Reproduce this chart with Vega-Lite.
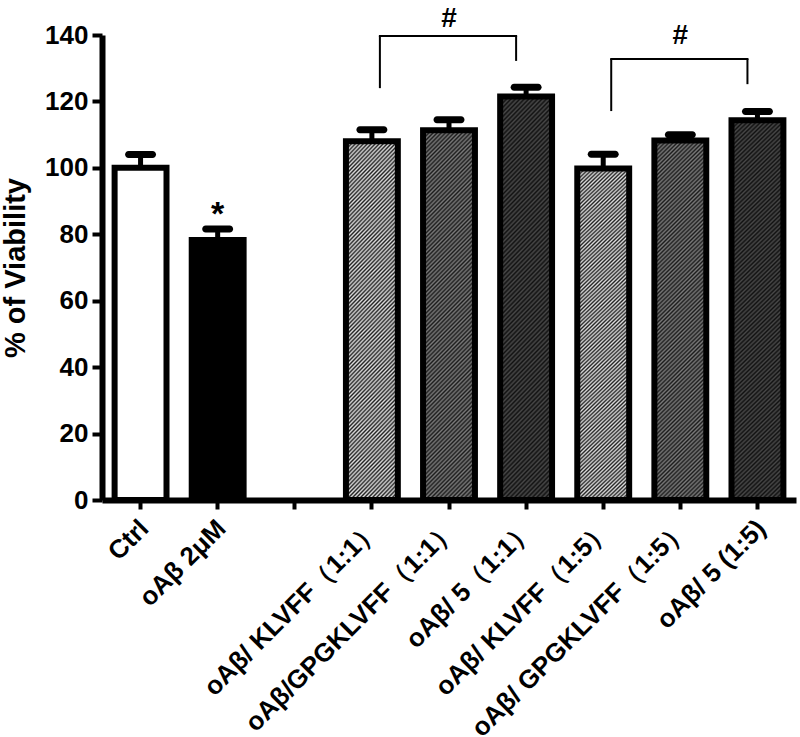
{
  "$schema": "https://vega.github.io/schema/vega-lite/v6.json",
  "width": 694,
  "height": 465,
  "autosize": {"type": "none"},
  "padding": {"left": 102, "top": 35, "right": 4, "bottom": 237},
  "background": "white",
  "config": {
    "view": {"stroke": null},
    "font": "Liberation Sans",
    "axis": {
      "domainColor": "black",
      "tickColor": "black",
      "labelColor": "black",
      "titleColor": "black",
      "grid": false,
      "labelFont": "Liberation Sans",
      "titleFont": "Liberation Sans",
      "labelFontWeight": "bold",
      "titleFontWeight": "bold"
    }
  },
  "layer": [
    {
      "data": {
        "values": [
          {"group": "Ctrl", "kind": "ctrl", "value": 100, "upper": 104},
          {"group": "oAβ 2μM", "kind": "abeta", "value": 78.3, "upper": 81.6},
          {"group": "oAβ/ KLVFF（1:1）", "kind": "klvff", "value": 108, "upper": 111.5},
          {"group": "oAβ/GPGKLVFF（1:1）", "kind": "gpgk", "value": 111.3, "upper": 114.5},
          {"group": "oAβ/ 5（1:1）", "kind": "c5", "value": 121.5, "upper": 124.3},
          {"group": "oAβ/ KLVFF（1:5）", "kind": "klvff", "value": 99.8, "upper": 104.1},
          {"group": "oAβ/ GPGKLVFF（1:5）", "kind": "gpgk", "value": 108.2, "upper": 110},
          {"group": "oAβ/ 5 (1:5)", "kind": "c5", "value": 114.3, "upper": 117}
        ]
      },
      "layer": [
        {
          "transform": [{"filter": "datum.kind == 'ctrl' || datum.kind == 'abeta'"}],
          "mark": {"type": "bar", "stroke": "black", "strokeWidth": 6},
          "encoding": {
            "x": {"field": "group", "type": "nominal", "title": null,
              "scale": {"domain": ["Ctrl", "oAβ 2μM", "blank", "oAβ/ KLVFF（1:1）", "oAβ/GPGKLVFF（1:1）", "oAβ/ 5（1:1）", "oAβ/ KLVFF（1:5）", "oAβ/ GPGKLVFF（1:5）", "oAβ/ 5 (1:5)"], "paddingInner": 0.327, "paddingOuter": 0.1635},
              "axis": {
                "labelExpr": "datum.value == 'blank' ? '' : datum.value",
                "labelAngle": -45, "labelAlign": "right", "labelBaseline": "middle",
                "labelFontSize": 26, "labelPadding": 15, "labelOffset": 4,
                "labelLimit": 500, "labelOverlap": false, "labelBound": false,
                "domainWidth": 6, "tickSize": 9, "tickWidth": 4
              }
            },
            "y": {"field": "value", "type": "quantitative",
              "scale": {"domain": [0, 140], "nice": false, "zero": true},
              "axis": {
                "values": [0, 20, 40, 60, 80, 100, 120, 140],
                "title": "% of Viability", "titleFontSize": 29, "titlePadding": 14,
                "labelFontSize": 26, "labelPadding": 4,
                "domainWidth": 6, "tickSize": 10, "tickWidth": 4
              }
            },
            "color": {"field": "kind", "type": "nominal", "legend": null,
              "scale": {"domain": ["ctrl", "abeta"], "range": ["#ffffff", "#000000"]}}
          }
        },
        {
          "transform": [{"filter": "datum.kind == 'klvff'"}],
          "mark": {"type": "bar", "stroke": "black", "strokeWidth": 6,
            "fill": {"gradient": "linear", "x1": 0, "y1": 0, "x2": 0.1692, "y2": 1.1251, "stops": [
{"offset":0,"color":"#222"},{"offset":0.005,"color":"#ddd"},{"offset":0.01,"color":"#222"},{"offset":0.015,"color":"#ddd"},{"offset":0.02,"color":"#222"},{"offset":0.025,"color":"#ddd"},{"offset":0.03,"color":"#222"},{"offset":0.035,"color":"#ddd"},{"offset":0.04,"color":"#222"},{"offset":0.045,"color":"#ddd"},
{"offset":0.05,"color":"#222"},{"offset":0.055,"color":"#ddd"},{"offset":0.06,"color":"#222"},{"offset":0.065,"color":"#ddd"},{"offset":0.07,"color":"#222"},{"offset":0.075,"color":"#ddd"},{"offset":0.08,"color":"#222"},{"offset":0.085,"color":"#ddd"},{"offset":0.09,"color":"#222"},{"offset":0.095,"color":"#ddd"},
{"offset":0.1,"color":"#222"},{"offset":0.105,"color":"#ddd"},{"offset":0.11,"color":"#222"},{"offset":0.115,"color":"#ddd"},{"offset":0.12,"color":"#222"},{"offset":0.125,"color":"#ddd"},{"offset":0.13,"color":"#222"},{"offset":0.135,"color":"#ddd"},{"offset":0.14,"color":"#222"},{"offset":0.145,"color":"#ddd"},
{"offset":0.15,"color":"#222"},{"offset":0.155,"color":"#ddd"},{"offset":0.16,"color":"#222"},{"offset":0.165,"color":"#ddd"},{"offset":0.17,"color":"#222"},{"offset":0.175,"color":"#ddd"},{"offset":0.18,"color":"#222"},{"offset":0.185,"color":"#ddd"},{"offset":0.19,"color":"#222"},{"offset":0.195,"color":"#ddd"},
{"offset":0.2,"color":"#222"},{"offset":0.205,"color":"#ddd"},{"offset":0.21,"color":"#222"},{"offset":0.215,"color":"#ddd"},{"offset":0.22,"color":"#222"},{"offset":0.225,"color":"#ddd"},{"offset":0.23,"color":"#222"},{"offset":0.235,"color":"#ddd"},{"offset":0.24,"color":"#222"},{"offset":0.245,"color":"#ddd"},
{"offset":0.25,"color":"#222"},{"offset":0.255,"color":"#ddd"},{"offset":0.26,"color":"#222"},{"offset":0.265,"color":"#ddd"},{"offset":0.27,"color":"#222"},{"offset":0.275,"color":"#ddd"},{"offset":0.28,"color":"#222"},{"offset":0.285,"color":"#ddd"},{"offset":0.29,"color":"#222"},{"offset":0.295,"color":"#ddd"},
{"offset":0.3,"color":"#222"},{"offset":0.305,"color":"#ddd"},{"offset":0.31,"color":"#222"},{"offset":0.315,"color":"#ddd"},{"offset":0.32,"color":"#222"},{"offset":0.325,"color":"#ddd"},{"offset":0.33,"color":"#222"},{"offset":0.335,"color":"#ddd"},{"offset":0.34,"color":"#222"},{"offset":0.345,"color":"#ddd"},
{"offset":0.35,"color":"#222"},{"offset":0.355,"color":"#ddd"},{"offset":0.36,"color":"#222"},{"offset":0.365,"color":"#ddd"},{"offset":0.37,"color":"#222"},{"offset":0.375,"color":"#ddd"},{"offset":0.38,"color":"#222"},{"offset":0.385,"color":"#ddd"},{"offset":0.39,"color":"#222"},{"offset":0.395,"color":"#ddd"},
{"offset":0.4,"color":"#222"},{"offset":0.405,"color":"#ddd"},{"offset":0.41,"color":"#222"},{"offset":0.415,"color":"#ddd"},{"offset":0.42,"color":"#222"},{"offset":0.425,"color":"#ddd"},{"offset":0.43,"color":"#222"},{"offset":0.435,"color":"#ddd"},{"offset":0.44,"color":"#222"},{"offset":0.445,"color":"#ddd"},
{"offset":0.45,"color":"#222"},{"offset":0.455,"color":"#ddd"},{"offset":0.46,"color":"#222"},{"offset":0.465,"color":"#ddd"},{"offset":0.47,"color":"#222"},{"offset":0.475,"color":"#ddd"},{"offset":0.48,"color":"#222"},{"offset":0.485,"color":"#ddd"},{"offset":0.49,"color":"#222"},{"offset":0.495,"color":"#ddd"},
{"offset":0.5,"color":"#222"},{"offset":0.505,"color":"#ddd"},{"offset":0.51,"color":"#222"},{"offset":0.515,"color":"#ddd"},{"offset":0.52,"color":"#222"},{"offset":0.525,"color":"#ddd"},{"offset":0.53,"color":"#222"},{"offset":0.535,"color":"#ddd"},{"offset":0.54,"color":"#222"},{"offset":0.545,"color":"#ddd"},
{"offset":0.55,"color":"#222"},{"offset":0.555,"color":"#ddd"},{"offset":0.56,"color":"#222"},{"offset":0.565,"color":"#ddd"},{"offset":0.57,"color":"#222"},{"offset":0.575,"color":"#ddd"},{"offset":0.58,"color":"#222"},{"offset":0.585,"color":"#ddd"},{"offset":0.59,"color":"#222"},{"offset":0.595,"color":"#ddd"},
{"offset":0.6,"color":"#222"},{"offset":0.605,"color":"#ddd"},{"offset":0.61,"color":"#222"},{"offset":0.615,"color":"#ddd"},{"offset":0.62,"color":"#222"},{"offset":0.625,"color":"#ddd"},{"offset":0.63,"color":"#222"},{"offset":0.635,"color":"#ddd"},{"offset":0.64,"color":"#222"},{"offset":0.645,"color":"#ddd"},
{"offset":0.65,"color":"#222"},{"offset":0.655,"color":"#ddd"},{"offset":0.66,"color":"#222"},{"offset":0.665,"color":"#ddd"},{"offset":0.67,"color":"#222"},{"offset":0.675,"color":"#ddd"},{"offset":0.68,"color":"#222"},{"offset":0.685,"color":"#ddd"},{"offset":0.69,"color":"#222"},{"offset":0.695,"color":"#ddd"},
{"offset":0.7,"color":"#222"},{"offset":0.705,"color":"#ddd"},{"offset":0.71,"color":"#222"},{"offset":0.715,"color":"#ddd"},{"offset":0.72,"color":"#222"},{"offset":0.725,"color":"#ddd"},{"offset":0.73,"color":"#222"},{"offset":0.735,"color":"#ddd"},{"offset":0.74,"color":"#222"},{"offset":0.745,"color":"#ddd"},
{"offset":0.75,"color":"#222"},{"offset":0.755,"color":"#ddd"},{"offset":0.76,"color":"#222"},{"offset":0.765,"color":"#ddd"},{"offset":0.77,"color":"#222"},{"offset":0.775,"color":"#ddd"},{"offset":0.78,"color":"#222"},{"offset":0.785,"color":"#ddd"},{"offset":0.79,"color":"#222"},{"offset":0.795,"color":"#ddd"},
{"offset":0.8,"color":"#222"},{"offset":0.805,"color":"#ddd"},{"offset":0.81,"color":"#222"},{"offset":0.815,"color":"#ddd"},{"offset":0.82,"color":"#222"},{"offset":0.825,"color":"#ddd"},{"offset":0.83,"color":"#222"},{"offset":0.835,"color":"#ddd"},{"offset":0.84,"color":"#222"},{"offset":0.845,"color":"#ddd"},
{"offset":0.85,"color":"#222"},{"offset":0.855,"color":"#ddd"},{"offset":0.86,"color":"#222"},{"offset":0.865,"color":"#ddd"},{"offset":0.87,"color":"#222"},{"offset":0.875,"color":"#ddd"},{"offset":0.88,"color":"#222"},{"offset":0.885,"color":"#ddd"},{"offset":0.89,"color":"#222"},{"offset":0.895,"color":"#ddd"},
{"offset":0.9,"color":"#222"},{"offset":0.905,"color":"#ddd"},{"offset":0.91,"color":"#222"},{"offset":0.915,"color":"#ddd"},{"offset":0.92,"color":"#222"},{"offset":0.925,"color":"#ddd"},{"offset":0.93,"color":"#222"},{"offset":0.935,"color":"#ddd"},{"offset":0.94,"color":"#222"},{"offset":0.945,"color":"#ddd"},
{"offset":0.95,"color":"#222"},{"offset":0.955,"color":"#ddd"},{"offset":0.96,"color":"#222"},{"offset":0.965,"color":"#ddd"},{"offset":0.97,"color":"#222"},{"offset":0.975,"color":"#ddd"},{"offset":0.98,"color":"#222"},{"offset":0.985,"color":"#ddd"},{"offset":0.99,"color":"#222"},{"offset":0.995,"color":"#ddd"},
{"offset":1,"color":"#222"}]}},
          "encoding": {
            "x": {"field": "group", "type": "nominal"},
            "y": {"field": "value", "type": "quantitative"}
          }
        },
        {
          "transform": [{"filter": "datum.kind == 'gpgk'"}],
          "mark": {"type": "bar", "stroke": "black", "strokeWidth": 6,
            "fill": {"gradient": "linear", "x1": 0, "y1": 0, "x2": 0.1594, "y2": 1.1197, "stops": [
{"offset":0,"color":"#1c1c1c"},{"offset":0.005,"color":"#7a7a7a"},{"offset":0.01,"color":"#1c1c1c"},{"offset":0.015,"color":"#7a7a7a"},{"offset":0.02,"color":"#1c1c1c"},{"offset":0.025,"color":"#7a7a7a"},{"offset":0.03,"color":"#1c1c1c"},{"offset":0.035,"color":"#7a7a7a"},{"offset":0.04,"color":"#1c1c1c"},{"offset":0.045,"color":"#7a7a7a"},
{"offset":0.05,"color":"#1c1c1c"},{"offset":0.055,"color":"#7a7a7a"},{"offset":0.06,"color":"#1c1c1c"},{"offset":0.065,"color":"#7a7a7a"},{"offset":0.07,"color":"#1c1c1c"},{"offset":0.075,"color":"#7a7a7a"},{"offset":0.08,"color":"#1c1c1c"},{"offset":0.085,"color":"#7a7a7a"},{"offset":0.09,"color":"#1c1c1c"},{"offset":0.095,"color":"#7a7a7a"},
{"offset":0.1,"color":"#1c1c1c"},{"offset":0.105,"color":"#7a7a7a"},{"offset":0.11,"color":"#1c1c1c"},{"offset":0.115,"color":"#7a7a7a"},{"offset":0.12,"color":"#1c1c1c"},{"offset":0.125,"color":"#7a7a7a"},{"offset":0.13,"color":"#1c1c1c"},{"offset":0.135,"color":"#7a7a7a"},{"offset":0.14,"color":"#1c1c1c"},{"offset":0.145,"color":"#7a7a7a"},
{"offset":0.15,"color":"#1c1c1c"},{"offset":0.155,"color":"#7a7a7a"},{"offset":0.16,"color":"#1c1c1c"},{"offset":0.165,"color":"#7a7a7a"},{"offset":0.17,"color":"#1c1c1c"},{"offset":0.175,"color":"#7a7a7a"},{"offset":0.18,"color":"#1c1c1c"},{"offset":0.185,"color":"#7a7a7a"},{"offset":0.19,"color":"#1c1c1c"},{"offset":0.195,"color":"#7a7a7a"},
{"offset":0.2,"color":"#1c1c1c"},{"offset":0.205,"color":"#7a7a7a"},{"offset":0.21,"color":"#1c1c1c"},{"offset":0.215,"color":"#7a7a7a"},{"offset":0.22,"color":"#1c1c1c"},{"offset":0.225,"color":"#7a7a7a"},{"offset":0.23,"color":"#1c1c1c"},{"offset":0.235,"color":"#7a7a7a"},{"offset":0.24,"color":"#1c1c1c"},{"offset":0.245,"color":"#7a7a7a"},
{"offset":0.25,"color":"#1c1c1c"},{"offset":0.255,"color":"#7a7a7a"},{"offset":0.26,"color":"#1c1c1c"},{"offset":0.265,"color":"#7a7a7a"},{"offset":0.27,"color":"#1c1c1c"},{"offset":0.275,"color":"#7a7a7a"},{"offset":0.28,"color":"#1c1c1c"},{"offset":0.285,"color":"#7a7a7a"},{"offset":0.29,"color":"#1c1c1c"},{"offset":0.295,"color":"#7a7a7a"},
{"offset":0.3,"color":"#1c1c1c"},{"offset":0.305,"color":"#7a7a7a"},{"offset":0.31,"color":"#1c1c1c"},{"offset":0.315,"color":"#7a7a7a"},{"offset":0.32,"color":"#1c1c1c"},{"offset":0.325,"color":"#7a7a7a"},{"offset":0.33,"color":"#1c1c1c"},{"offset":0.335,"color":"#7a7a7a"},{"offset":0.34,"color":"#1c1c1c"},{"offset":0.345,"color":"#7a7a7a"},
{"offset":0.35,"color":"#1c1c1c"},{"offset":0.355,"color":"#7a7a7a"},{"offset":0.36,"color":"#1c1c1c"},{"offset":0.365,"color":"#7a7a7a"},{"offset":0.37,"color":"#1c1c1c"},{"offset":0.375,"color":"#7a7a7a"},{"offset":0.38,"color":"#1c1c1c"},{"offset":0.385,"color":"#7a7a7a"},{"offset":0.39,"color":"#1c1c1c"},{"offset":0.395,"color":"#7a7a7a"},
{"offset":0.4,"color":"#1c1c1c"},{"offset":0.405,"color":"#7a7a7a"},{"offset":0.41,"color":"#1c1c1c"},{"offset":0.415,"color":"#7a7a7a"},{"offset":0.42,"color":"#1c1c1c"},{"offset":0.425,"color":"#7a7a7a"},{"offset":0.43,"color":"#1c1c1c"},{"offset":0.435,"color":"#7a7a7a"},{"offset":0.44,"color":"#1c1c1c"},{"offset":0.445,"color":"#7a7a7a"},
{"offset":0.45,"color":"#1c1c1c"},{"offset":0.455,"color":"#7a7a7a"},{"offset":0.46,"color":"#1c1c1c"},{"offset":0.465,"color":"#7a7a7a"},{"offset":0.47,"color":"#1c1c1c"},{"offset":0.475,"color":"#7a7a7a"},{"offset":0.48,"color":"#1c1c1c"},{"offset":0.485,"color":"#7a7a7a"},{"offset":0.49,"color":"#1c1c1c"},{"offset":0.495,"color":"#7a7a7a"},
{"offset":0.5,"color":"#1c1c1c"},{"offset":0.505,"color":"#7a7a7a"},{"offset":0.51,"color":"#1c1c1c"},{"offset":0.515,"color":"#7a7a7a"},{"offset":0.52,"color":"#1c1c1c"},{"offset":0.525,"color":"#7a7a7a"},{"offset":0.53,"color":"#1c1c1c"},{"offset":0.535,"color":"#7a7a7a"},{"offset":0.54,"color":"#1c1c1c"},{"offset":0.545,"color":"#7a7a7a"},
{"offset":0.55,"color":"#1c1c1c"},{"offset":0.555,"color":"#7a7a7a"},{"offset":0.56,"color":"#1c1c1c"},{"offset":0.565,"color":"#7a7a7a"},{"offset":0.57,"color":"#1c1c1c"},{"offset":0.575,"color":"#7a7a7a"},{"offset":0.58,"color":"#1c1c1c"},{"offset":0.585,"color":"#7a7a7a"},{"offset":0.59,"color":"#1c1c1c"},{"offset":0.595,"color":"#7a7a7a"},
{"offset":0.6,"color":"#1c1c1c"},{"offset":0.605,"color":"#7a7a7a"},{"offset":0.61,"color":"#1c1c1c"},{"offset":0.615,"color":"#7a7a7a"},{"offset":0.62,"color":"#1c1c1c"},{"offset":0.625,"color":"#7a7a7a"},{"offset":0.63,"color":"#1c1c1c"},{"offset":0.635,"color":"#7a7a7a"},{"offset":0.64,"color":"#1c1c1c"},{"offset":0.645,"color":"#7a7a7a"},
{"offset":0.65,"color":"#1c1c1c"},{"offset":0.655,"color":"#7a7a7a"},{"offset":0.66,"color":"#1c1c1c"},{"offset":0.665,"color":"#7a7a7a"},{"offset":0.67,"color":"#1c1c1c"},{"offset":0.675,"color":"#7a7a7a"},{"offset":0.68,"color":"#1c1c1c"},{"offset":0.685,"color":"#7a7a7a"},{"offset":0.69,"color":"#1c1c1c"},{"offset":0.695,"color":"#7a7a7a"},
{"offset":0.7,"color":"#1c1c1c"},{"offset":0.705,"color":"#7a7a7a"},{"offset":0.71,"color":"#1c1c1c"},{"offset":0.715,"color":"#7a7a7a"},{"offset":0.72,"color":"#1c1c1c"},{"offset":0.725,"color":"#7a7a7a"},{"offset":0.73,"color":"#1c1c1c"},{"offset":0.735,"color":"#7a7a7a"},{"offset":0.74,"color":"#1c1c1c"},{"offset":0.745,"color":"#7a7a7a"},
{"offset":0.75,"color":"#1c1c1c"},{"offset":0.755,"color":"#7a7a7a"},{"offset":0.76,"color":"#1c1c1c"},{"offset":0.765,"color":"#7a7a7a"},{"offset":0.77,"color":"#1c1c1c"},{"offset":0.775,"color":"#7a7a7a"},{"offset":0.78,"color":"#1c1c1c"},{"offset":0.785,"color":"#7a7a7a"},{"offset":0.79,"color":"#1c1c1c"},{"offset":0.795,"color":"#7a7a7a"},
{"offset":0.8,"color":"#1c1c1c"},{"offset":0.805,"color":"#7a7a7a"},{"offset":0.81,"color":"#1c1c1c"},{"offset":0.815,"color":"#7a7a7a"},{"offset":0.82,"color":"#1c1c1c"},{"offset":0.825,"color":"#7a7a7a"},{"offset":0.83,"color":"#1c1c1c"},{"offset":0.835,"color":"#7a7a7a"},{"offset":0.84,"color":"#1c1c1c"},{"offset":0.845,"color":"#7a7a7a"},
{"offset":0.85,"color":"#1c1c1c"},{"offset":0.855,"color":"#7a7a7a"},{"offset":0.86,"color":"#1c1c1c"},{"offset":0.865,"color":"#7a7a7a"},{"offset":0.87,"color":"#1c1c1c"},{"offset":0.875,"color":"#7a7a7a"},{"offset":0.88,"color":"#1c1c1c"},{"offset":0.885,"color":"#7a7a7a"},{"offset":0.89,"color":"#1c1c1c"},{"offset":0.895,"color":"#7a7a7a"},
{"offset":0.9,"color":"#1c1c1c"},{"offset":0.905,"color":"#7a7a7a"},{"offset":0.91,"color":"#1c1c1c"},{"offset":0.915,"color":"#7a7a7a"},{"offset":0.92,"color":"#1c1c1c"},{"offset":0.925,"color":"#7a7a7a"},{"offset":0.93,"color":"#1c1c1c"},{"offset":0.935,"color":"#7a7a7a"},{"offset":0.94,"color":"#1c1c1c"},{"offset":0.945,"color":"#7a7a7a"},
{"offset":0.95,"color":"#1c1c1c"},{"offset":0.955,"color":"#7a7a7a"},{"offset":0.96,"color":"#1c1c1c"},{"offset":0.965,"color":"#7a7a7a"},{"offset":0.97,"color":"#1c1c1c"},{"offset":0.975,"color":"#7a7a7a"},{"offset":0.98,"color":"#1c1c1c"},{"offset":0.985,"color":"#7a7a7a"},{"offset":0.99,"color":"#1c1c1c"},{"offset":0.995,"color":"#7a7a7a"},
{"offset":1,"color":"#1c1c1c"}]}},
          "encoding": {
            "x": {"field": "group", "type": "nominal"},
            "y": {"field": "value", "type": "quantitative"}
          }
        },
        {
          "transform": [{"filter": "datum.kind == 'c5'"}],
          "mark": {"type": "bar", "stroke": "black", "strokeWidth": 6,
            "fill": {"gradient": "linear", "x1": 0, "y1": 0, "x2": 0.1475, "y2": 1.113, "stops": [
{"offset":0,"color":"#111"},{"offset":0.005,"color":"#484848"},{"offset":0.01,"color":"#111"},{"offset":0.015,"color":"#484848"},{"offset":0.02,"color":"#111"},{"offset":0.025,"color":"#484848"},{"offset":0.03,"color":"#111"},{"offset":0.035,"color":"#484848"},{"offset":0.04,"color":"#111"},{"offset":0.045,"color":"#484848"},
{"offset":0.05,"color":"#111"},{"offset":0.055,"color":"#484848"},{"offset":0.06,"color":"#111"},{"offset":0.065,"color":"#484848"},{"offset":0.07,"color":"#111"},{"offset":0.075,"color":"#484848"},{"offset":0.08,"color":"#111"},{"offset":0.085,"color":"#484848"},{"offset":0.09,"color":"#111"},{"offset":0.095,"color":"#484848"},
{"offset":0.1,"color":"#111"},{"offset":0.105,"color":"#484848"},{"offset":0.11,"color":"#111"},{"offset":0.115,"color":"#484848"},{"offset":0.12,"color":"#111"},{"offset":0.125,"color":"#484848"},{"offset":0.13,"color":"#111"},{"offset":0.135,"color":"#484848"},{"offset":0.14,"color":"#111"},{"offset":0.145,"color":"#484848"},
{"offset":0.15,"color":"#111"},{"offset":0.155,"color":"#484848"},{"offset":0.16,"color":"#111"},{"offset":0.165,"color":"#484848"},{"offset":0.17,"color":"#111"},{"offset":0.175,"color":"#484848"},{"offset":0.18,"color":"#111"},{"offset":0.185,"color":"#484848"},{"offset":0.19,"color":"#111"},{"offset":0.195,"color":"#484848"},
{"offset":0.2,"color":"#111"},{"offset":0.205,"color":"#484848"},{"offset":0.21,"color":"#111"},{"offset":0.215,"color":"#484848"},{"offset":0.22,"color":"#111"},{"offset":0.225,"color":"#484848"},{"offset":0.23,"color":"#111"},{"offset":0.235,"color":"#484848"},{"offset":0.24,"color":"#111"},{"offset":0.245,"color":"#484848"},
{"offset":0.25,"color":"#111"},{"offset":0.255,"color":"#484848"},{"offset":0.26,"color":"#111"},{"offset":0.265,"color":"#484848"},{"offset":0.27,"color":"#111"},{"offset":0.275,"color":"#484848"},{"offset":0.28,"color":"#111"},{"offset":0.285,"color":"#484848"},{"offset":0.29,"color":"#111"},{"offset":0.295,"color":"#484848"},
{"offset":0.3,"color":"#111"},{"offset":0.305,"color":"#484848"},{"offset":0.31,"color":"#111"},{"offset":0.315,"color":"#484848"},{"offset":0.32,"color":"#111"},{"offset":0.325,"color":"#484848"},{"offset":0.33,"color":"#111"},{"offset":0.335,"color":"#484848"},{"offset":0.34,"color":"#111"},{"offset":0.345,"color":"#484848"},
{"offset":0.35,"color":"#111"},{"offset":0.355,"color":"#484848"},{"offset":0.36,"color":"#111"},{"offset":0.365,"color":"#484848"},{"offset":0.37,"color":"#111"},{"offset":0.375,"color":"#484848"},{"offset":0.38,"color":"#111"},{"offset":0.385,"color":"#484848"},{"offset":0.39,"color":"#111"},{"offset":0.395,"color":"#484848"},
{"offset":0.4,"color":"#111"},{"offset":0.405,"color":"#484848"},{"offset":0.41,"color":"#111"},{"offset":0.415,"color":"#484848"},{"offset":0.42,"color":"#111"},{"offset":0.425,"color":"#484848"},{"offset":0.43,"color":"#111"},{"offset":0.435,"color":"#484848"},{"offset":0.44,"color":"#111"},{"offset":0.445,"color":"#484848"},
{"offset":0.45,"color":"#111"},{"offset":0.455,"color":"#484848"},{"offset":0.46,"color":"#111"},{"offset":0.465,"color":"#484848"},{"offset":0.47,"color":"#111"},{"offset":0.475,"color":"#484848"},{"offset":0.48,"color":"#111"},{"offset":0.485,"color":"#484848"},{"offset":0.49,"color":"#111"},{"offset":0.495,"color":"#484848"},
{"offset":0.5,"color":"#111"},{"offset":0.505,"color":"#484848"},{"offset":0.51,"color":"#111"},{"offset":0.515,"color":"#484848"},{"offset":0.52,"color":"#111"},{"offset":0.525,"color":"#484848"},{"offset":0.53,"color":"#111"},{"offset":0.535,"color":"#484848"},{"offset":0.54,"color":"#111"},{"offset":0.545,"color":"#484848"},
{"offset":0.55,"color":"#111"},{"offset":0.555,"color":"#484848"},{"offset":0.56,"color":"#111"},{"offset":0.565,"color":"#484848"},{"offset":0.57,"color":"#111"},{"offset":0.575,"color":"#484848"},{"offset":0.58,"color":"#111"},{"offset":0.585,"color":"#484848"},{"offset":0.59,"color":"#111"},{"offset":0.595,"color":"#484848"},
{"offset":0.6,"color":"#111"},{"offset":0.605,"color":"#484848"},{"offset":0.61,"color":"#111"},{"offset":0.615,"color":"#484848"},{"offset":0.62,"color":"#111"},{"offset":0.625,"color":"#484848"},{"offset":0.63,"color":"#111"},{"offset":0.635,"color":"#484848"},{"offset":0.64,"color":"#111"},{"offset":0.645,"color":"#484848"},
{"offset":0.65,"color":"#111"},{"offset":0.655,"color":"#484848"},{"offset":0.66,"color":"#111"},{"offset":0.665,"color":"#484848"},{"offset":0.67,"color":"#111"},{"offset":0.675,"color":"#484848"},{"offset":0.68,"color":"#111"},{"offset":0.685,"color":"#484848"},{"offset":0.69,"color":"#111"},{"offset":0.695,"color":"#484848"},
{"offset":0.7,"color":"#111"},{"offset":0.705,"color":"#484848"},{"offset":0.71,"color":"#111"},{"offset":0.715,"color":"#484848"},{"offset":0.72,"color":"#111"},{"offset":0.725,"color":"#484848"},{"offset":0.73,"color":"#111"},{"offset":0.735,"color":"#484848"},{"offset":0.74,"color":"#111"},{"offset":0.745,"color":"#484848"},
{"offset":0.75,"color":"#111"},{"offset":0.755,"color":"#484848"},{"offset":0.76,"color":"#111"},{"offset":0.765,"color":"#484848"},{"offset":0.77,"color":"#111"},{"offset":0.775,"color":"#484848"},{"offset":0.78,"color":"#111"},{"offset":0.785,"color":"#484848"},{"offset":0.79,"color":"#111"},{"offset":0.795,"color":"#484848"},
{"offset":0.8,"color":"#111"},{"offset":0.805,"color":"#484848"},{"offset":0.81,"color":"#111"},{"offset":0.815,"color":"#484848"},{"offset":0.82,"color":"#111"},{"offset":0.825,"color":"#484848"},{"offset":0.83,"color":"#111"},{"offset":0.835,"color":"#484848"},{"offset":0.84,"color":"#111"},{"offset":0.845,"color":"#484848"},
{"offset":0.85,"color":"#111"},{"offset":0.855,"color":"#484848"},{"offset":0.86,"color":"#111"},{"offset":0.865,"color":"#484848"},{"offset":0.87,"color":"#111"},{"offset":0.875,"color":"#484848"},{"offset":0.88,"color":"#111"},{"offset":0.885,"color":"#484848"},{"offset":0.89,"color":"#111"},{"offset":0.895,"color":"#484848"},
{"offset":0.9,"color":"#111"},{"offset":0.905,"color":"#484848"},{"offset":0.91,"color":"#111"},{"offset":0.915,"color":"#484848"},{"offset":0.92,"color":"#111"},{"offset":0.925,"color":"#484848"},{"offset":0.93,"color":"#111"},{"offset":0.935,"color":"#484848"},{"offset":0.94,"color":"#111"},{"offset":0.945,"color":"#484848"},
{"offset":0.95,"color":"#111"},{"offset":0.955,"color":"#484848"},{"offset":0.96,"color":"#111"},{"offset":0.965,"color":"#484848"},{"offset":0.97,"color":"#111"},{"offset":0.975,"color":"#484848"},{"offset":0.98,"color":"#111"},{"offset":0.985,"color":"#484848"},{"offset":0.99,"color":"#111"},{"offset":0.995,"color":"#484848"},
{"offset":1,"color":"#111"}]}},
          "encoding": {
            "x": {"field": "group", "type": "nominal"},
            "y": {"field": "value", "type": "quantitative"}
          }
        },
        {
          "mark": {"type": "rule", "color": "black", "strokeWidth": 5},
          "encoding": {
            "x": {"field": "group", "type": "nominal"},
            "y": {"field": "value", "type": "quantitative"},
            "y2": {"field": "upper"}
          }
        },
        {
          "mark": {"type": "tick", "color": "black", "opacity": 1, "size": 31, "thickness": 7, "cornerRadius": 3.5},
          "encoding": {
            "x": {"field": "group", "type": "nominal"},
            "y": {"field": "upper", "type": "quantitative"}
          }
        }
      ]
    },
    {
      "data": {
        "values": [
          {"a": "oAβ/ KLVFF（1:1）", "b": "oAβ/ 5（1:1）", "top": 139.7, "la": 124.0, "ra": 132.2},
          {"a": "oAβ/ KLVFF（1:5）", "b": "oAβ/ 5 (1:5)", "top": 132.8, "la": 117.1, "ra": 125.2}
        ]
      },
      "layer": [
        {
          "mark": {"type": "rule", "color": "black", "strokeWidth": 2, "xOffset": 8, "x2Offset": -10, "strokeCap": "square"},
          "encoding": {
            "x": {"field": "a", "type": "nominal"},
            "x2": {"field": "b"},
            "y": {"field": "top", "type": "quantitative"}
          }
        },
        {
          "mark": {"type": "rule", "color": "black", "strokeWidth": 2, "xOffset": 8},
          "encoding": {
            "x": {"field": "a", "type": "nominal"},
            "y": {"field": "la", "type": "quantitative"},
            "y2": {"field": "top"}
          }
        },
        {
          "mark": {"type": "rule", "color": "black", "strokeWidth": 2, "xOffset": -10},
          "encoding": {
            "x": {"field": "b", "type": "nominal"},
            "y": {"field": "ra", "type": "quantitative"},
            "y2": {"field": "top"}
          }
        }
      ]
    },
    {
      "data": {
        "values": [
          {"group": "oAβ 2μM", "y": 82.8, "label": "*"}
        ]
      },
      "mark": {"type": "text", "color": "black", "fontWeight": "bold", "baseline": "alphabetic", "align": "center", "font": "Liberation Sans", "fontSize": 34},
      "encoding": {
        "x": {"field": "group", "type": "nominal"},
        "y": {"field": "y", "type": "quantitative"},
        "text": {"field": "label"}
      }
    },
    {
      "data": {
        "values": [
          {"group": "oAβ/GPGKLVFF（1:1）", "y": 142.5, "label": "#"},
          {"group": "oAβ/ GPGKLVFF（1:5）", "y": 137.3, "label": "#"}
        ]
      },
      "mark": {"type": "text", "color": "black", "fontWeight": "bold", "baseline": "alphabetic", "align": "center", "font": "Liberation Sans", "fontSize": 28},
      "encoding": {
        "x": {"field": "group", "type": "nominal"},
        "y": {"field": "y", "type": "quantitative"},
        "text": {"field": "label"}
      }
    }
  ]
}
